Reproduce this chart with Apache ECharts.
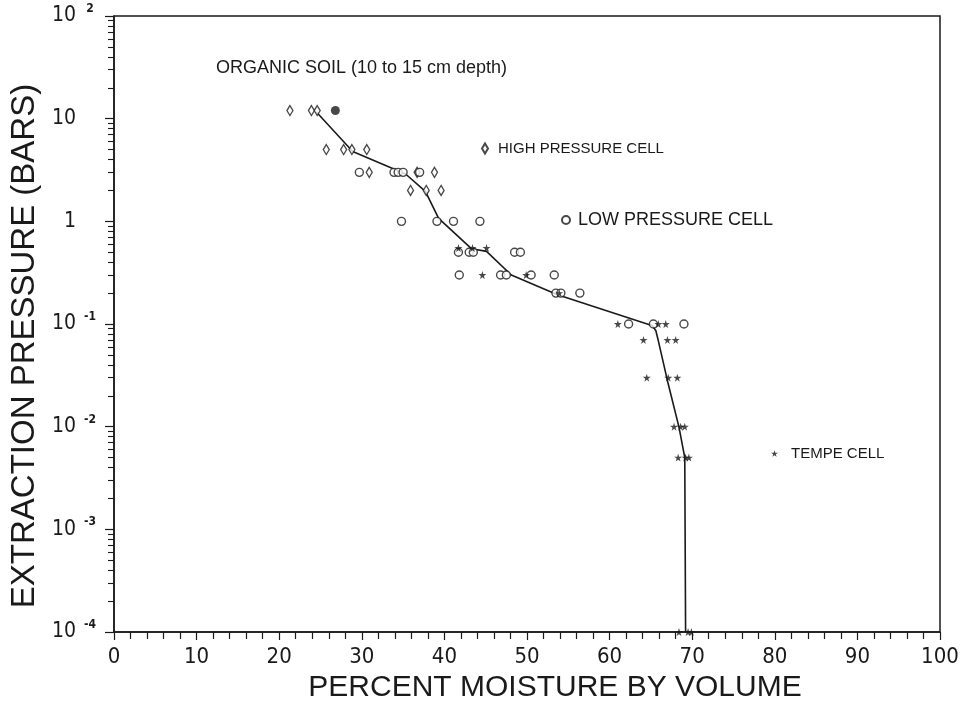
<!DOCTYPE html>
<html><head><meta charset="utf-8">
<script src="https://cdn.jsdelivr.net/npm/echarts@6/dist/echarts.min.js"></script>
<style>html,body{margin:0;padding:0;background:#fff}#c{width:967px;height:701px}</style>
</head><body><div id="c"></div>
<script>
// ---- text ----
const titleText = 'ORGANIC SOIL (10 to 15 cm depth)';
const xAxisName = 'PERCENT MOISTURE BY VOLUME';
const yAxisName = 'EXTRACTION PRESSURE (BARS)';
const seriesNames = ['HIGH PRESSURE CELL', 'LOW PRESSURE CELL', 'TEMPE CELL'];

// ---- tick labels ----
const xTickValues = [0, 10, 20, 30, 40, 50, 60, 70, 80, 90, 100];
const yTickExponents = [-4, -3, -2, -1, 0, 1, 2];
const yTickBase = ['10', '10', '10', '10', '1', '10', '10'];
const yTickSup = ['-4', '-3', '-2', '-1', '', '', '2'];
const yMinorMantissas = [2, 3, 4, 5, 6, 7, 8, 9];

// ---- data: high pressure cell (diamonds) ----
const highX = [21.3, 23.9, 24.6, 25.7, 27.8, 28.8, 30.6, 30.9, 36.7, 38.8, 35.9, 37.8, 39.6];
const highY = [12, 12, 12, 5, 5, 5, 5, 3, 3, 3, 2, 2, 2];
// overlapping (filled) marker
const overlapX = [26.8];
const overlapY = [12];

// ---- data: low pressure cell (circles) ----
const lowX = [29.7, 33.9, 34.4, 35.0, 37.0,
              34.8, 39.1, 41.1, 44.3,
              41.7, 43.0, 43.5, 48.5, 49.2,
              41.8, 46.8, 47.5, 50.5, 53.3,
              53.5, 54.1, 56.4,
              62.3, 65.3, 69.0];
const lowY = [3, 3, 3, 3, 3,
              1, 1, 1, 1,
              0.5, 0.5, 0.5, 0.5, 0.5,
              0.3, 0.3, 0.3, 0.3, 0.3,
              0.2, 0.2, 0.2,
              0.1, 0.1, 0.1];

// ---- data: tempe cell (stars) ----
const tempeX = [41.7, 43.4, 45.1,
                44.6, 49.9,
                53.9,
                61.0, 65.9, 66.8,
                64.1, 67.0, 68.0,
                64.5, 67.1, 68.2,
                67.8, 68.6, 69.1,
                68.3, 69.2, 69.6,
                68.4, 69.5, 69.9];
const tempeY = [0.55, 0.55, 0.55,
                0.3, 0.3,
                0.2,
                0.1, 0.1, 0.1,
                0.07, 0.07, 0.07,
                0.03, 0.03, 0.03,
                0.01, 0.01, 0.01,
                0.005, 0.005, 0.005,
                0.0001, 0.0001, 0.0001];

// ---- fitted curve ----
const curveX = [24.5, 28.9, 35.3, 37.7, 39.3, 43.3, 45.1, 48.1, 53.7, 65.2, 65.6, 65.9, 67.1, 68.4, 69.1, 69.2];
const curveY = [11.6, 4.79, 2.89, 1.96, 1.07, 0.54, 0.51, 0.30, 0.193, 0.096, 0.086, 0.0686, 0.026, 0.0099, 0.005, 0.0001];

const zip = (a, b) => a.map((v, i) => [v, b[i]]);

const minorTickValues = [];
for (let e = yTickExponents[0]; e < yTickExponents[yTickExponents.length - 1]; e++) {
  yMinorMantissas.forEach(m => minorTickValues.push(Math.log10(m) + e));
}

const FONT = "'Liberation Sans Narrow', 'DejaVu Sans Condensed', 'Liberation Sans', sans-serif";
const SANS = "'Liberation Sans', sans-serif";
const INK = '#1a1a1a';
const STAR = 'path://M50,0 L61,35 L98,35 L68,57 L79,91 L50,70 L21,91 L32,57 L2,35 L39,35 Z';

const chart = echarts.init(document.getElementById('c'), null, { renderer: 'canvas' });
chart.setOption({
  backgroundColor: '#fff',
  animation: false,
  title: {
    text: titleText, left: 216, top: 59, padding: 0,
    textStyle: { fontFamily: SANS, fontSize: 18, fontWeight: 'normal', color: INK }
  },
  legend: [
    { data: [seriesNames[0]], left: 481, top: 141, padding: 0, itemWidth: 6, itemHeight: 10, selectedMode: false,
      textStyle: { fontFamily: SANS, fontSize: 15, color: INK, padding: [0, 0, 0, 5] } },
    { data: [seriesNames[1]], left: 561, top: 211, padding: 0, itemWidth: 8, itemHeight: 8, selectedMode: false,
      textStyle: { fontFamily: SANS, fontSize: 18, color: INK, padding: [0, 0, 0, 3] } },
    { data: [seriesNames[2]], left: 771, top: 446, padding: 0, itemWidth: 7, itemHeight: 7, selectedMode: false,
      textStyle: { fontFamily: SANS, fontSize: 15, color: INK, padding: [0, 0, 0, 8] } }
  ],
  grid: { left: 114, right: 27, top: 16, bottom: 69, containLabel: false, outerBoundsMode: 'none',
          show: true, borderColor: INK, borderWidth: 1.5, backgroundColor: 'transparent' },
  xAxis: {
    type: 'value', min: 0, max: 100, interval: 10,
    name: xAxisName, nameLocation: 'middle', nameGap: 36,
    nameTextStyle: { fontFamily: SANS, fontSize: 30, color: INK, padding: [0, 0, 0, 56] },
    axisLine: { onZero: false, lineStyle: { color: INK, width: 1.5 } },
    axisTick: { show: true, length: 8, lineStyle: { color: INK, width: 1.2 } },
    minorTick: { show: true, splitNumber: 5, length: 7, lineStyle: { color: INK, width: 1.2 } },
    splitLine: { show: false },
    axisLabel: { margin: 14, fontFamily: FONT, fontSize: 22, color: INK,
      customValues: xTickValues, formatter: v => String(v) }
  },
  yAxis: [
    {
      type: 'log', logBase: 10, min: 1e-4, max: 100, splitNumber: 6,
      name: yAxisName, nameLocation: 'middle', nameGap: 58,
      nameTextStyle: { fontFamily: SANS, fontSize: 33, color: INK, padding: [0, 44, 0, 0] },
      axisLine: { onZero: false, lineStyle: { color: INK, width: 1.5 } },
      axisTick: { show: true, length: 9, lineStyle: { color: INK, width: 1.2 } },
      splitLine: { show: false },
      axisLabel: {
        margin: 16, fontFamily: FONT, color: INK,
        formatter: function (v) {
          const e = Math.round(Math.log10(v));
          const i = yTickExponents.indexOf(e);
          if (i < 0) return '';
          return '{b|' + yTickBase[i] + '}{e|' + yTickSup[i] + '}';
        },
        rich: {
          b: { fontFamily: FONT, fontSize: 21, lineHeight: 26, color: INK },
          e: { fontFamily: FONT, fontSize: 12, width: 16, align: 'left', verticalAlign: 'top', padding: [0, 0, 0, 6], color: INK, fontWeight: 'bold' }
        }
      }
    },
    {
      type: 'value', min: yTickExponents[0], max: yTickExponents[yTickExponents.length - 1], position: 'left',
      axisLine: { show: false, onZero: false },
      axisLabel: { show: false },
      splitLine: { show: false },
      axisTick: { show: true, length: 6, customValues: minorTickValues, lineStyle: { color: INK, width: 1.1 } }
    }
  ],
  series: [
    {
      type: 'line', name: 'curve', data: zip(curveX, curveY), showSymbol: false, symbol: 'none',
      lineStyle: { color: INK, width: 1.6 }, clip: false, z: 2
    },
    {
      type: 'scatter', name: seriesNames[0], data: zip(highX, highY), symbol: 'diamond', symbolSize: [6, 10],
      itemStyle: { color: '#fff', borderColor: INK, borderWidth: 1.4 }, clip: false, z: 3
    },
    {
      type: 'scatter', name: 'overlap', data: zip(overlapX, overlapY), symbol: 'circle', symbolSize: 9,
      itemStyle: { color: INK }, clip: false, z: 3
    },
    {
      type: 'scatter', name: seriesNames[1], data: zip(lowX, lowY), symbol: 'circle', symbolSize: 8,
      itemStyle: { color: '#fff', borderColor: INK, borderWidth: 1.4 }, clip: false, z: 3
    },
    {
      type: 'scatter', name: seriesNames[2], data: zip(tempeX, tempeY), symbol: STAR, symbolSize: 8,
      itemStyle: { color: INK }, clip: false, z: 4
    }
  ]
});
</script>
</body></html>
